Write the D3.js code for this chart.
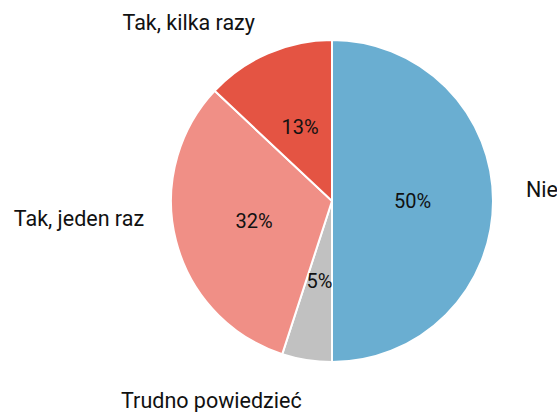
<!DOCTYPE html>
<html>
<head>
<meta charset="utf-8">
<script src="https://cdn.jsdelivr.net/npm/d3@7.9.0/dist/d3.min.js"></script>
<style>
  body { margin: 0; background: #fff; }
  text { font-family: Roboto, sans-serif; fill: #111; }
</style>
</head>
<body>
<div id="chart"></div>
<script>
const labels = ['Nie', 'Trudno powiedzieć', 'Tak, jeden raz', 'Tak, kilka razy'];
const values = [50, 5, 32, 13];
const colors = ['#6aaed1', '#c1c1c1', '#f08f86', '#e45443'];
// small vertical nudges for the outer labels
const labelNudge = [-12, 8, -31, 0];

const width = 557;
const height = 412;
const cx = 332, cy = 201;
const radius = 161;

const svg = d3.select('#chart')
  .append('svg')
  .attr('width', width)
  .attr('height', height);

const g = svg.append('g').attr('transform', `translate(${cx}, ${cy})`);

const pie = d3.pie().sort(null).value((d) => d.value);
const arcs = pie(labels.map((label, i) => ({ label, value: values[i], i })));

const arc = d3.arc().innerRadius(0).outerRadius(radius);

g.selectAll('path')
  .data(arcs)
  .join('path')
  .attr('d', arc)
  .attr('fill', (d) => colors[d.data.i])
  .attr('stroke', '#fff')
  .attr('stroke-width', 2);

// percentages inside
g.selectAll('text.pct')
  .data(arcs)
  .join('text')
  .attr('class', 'pct')
  .attr('transform', (d) => `translate(${arc.centroid(d)})`)
  .attr('text-anchor', 'middle')
  .attr('dy', '0.35em')
  .style('font-size', '20px')
  .text((d) => d.data.value + '%');

// category labels outside
const labelR = 194;
g.selectAll('text.cat')
  .data(arcs)
  .join('text')
  .attr('class', 'cat')
  .each(function (d) {
    const a = (d.startAngle + d.endAngle) / 2;
    const x = labelR * Math.sin(a);
    const y = -labelR * Math.cos(a) + labelNudge[d.data.i];
    d3.select(this)
      .attr('x', x)
      .attr('y', y)
      .attr('text-anchor', x > 0 ? 'start' : 'end');
  })
  .attr('dy', '0.35em')
  .style('font-size', '21.5px')
  .text((d) => d.data.label);
</script>
</body>
</html>
